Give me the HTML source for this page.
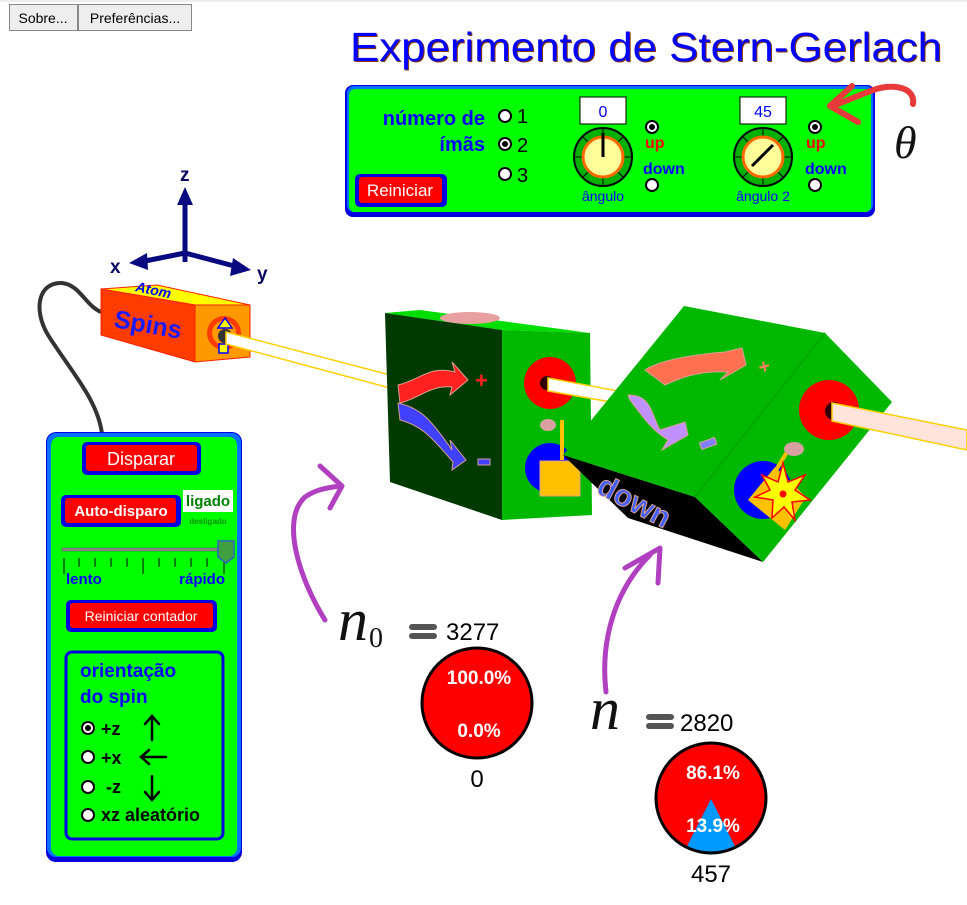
<!DOCTYPE html>
<html><head><meta charset="utf-8"><style>
body{margin:0;width:967px;height:905px;overflow:hidden;background:#fff;font-family:"Liberation Sans",sans-serif}
svg{position:absolute;left:0;top:0}
</style></head><body>
<svg width="967" height="905" viewBox="0 0 967 905" font-family="Liberation Sans, sans-serif">
<line x1="0" y1="1" x2="967" y2="1" stroke="#ddd"/>
<rect x="9.5" y="4.5" width="68" height="26" fill="#eee" stroke="#888"/>
<text x="43" y="23" font-size="14" text-anchor="middle">Sobre...</text>
<rect x="78.5" y="4.5" width="113" height="26" fill="#eee" stroke="#888"/>
<text x="135" y="23" font-size="14" text-anchor="middle">Preferências...</text>
<text x="351" y="62" font-size="41" fill="#8a3a00" textLength="592" lengthAdjust="spacingAndGlyphs">Experimento de Stern-Gerlach</text>
<text x="350" y="61" font-size="41" fill="#0000ff" textLength="592" lengthAdjust="spacingAndGlyphs">Experimento de Stern-Gerlach</text>
<rect x="345" y="85" width="530" height="132" rx="8" fill="#0000e0"/>
<rect x="347" y="86" width="526" height="126" rx="7" fill="#0070ff"/>
<rect x="349" y="89" width="522" height="123" rx="6" fill="#00ff00"/>
<text x="485" y="125" font-size="20" font-weight="bold" fill="#0000ff" text-anchor="end">número de</text>
<text x="485" y="151" font-size="20" font-weight="bold" fill="#0000ff" text-anchor="end">ímãs</text>
<g stroke="#000" stroke-width="2" fill="#fff"><circle cx="505" cy="116" r="6"/><circle cx="505" cy="144" r="6"/><circle cx="505" cy="174" r="6"/></g>
<circle cx="505" cy="144" r="3" fill="#000"/>
<g font-size="20" fill="#000"><text x="517" y="123">1</text><text x="517" y="152">2</text><text x="517" y="182">3</text></g>
<rect x="355" y="174" width="92" height="33" rx="5" fill="#0000e0"/>
<rect x="359" y="177" width="83" height="26" rx="3" fill="#ff0000"/>
<text x="400" y="196" font-size="17" fill="#fff" text-anchor="middle">Reiniciar</text>
<rect x="580" y="97" width="46" height="27" fill="#fff" stroke="#000"/>
<text x="603" y="117" font-size="16" fill="#0000ff" text-anchor="middle">0</text>
<circle cx="603" cy="157" r="29" fill="#00b000" stroke="#000" stroke-width="2"/>
<g stroke="#000" stroke-width="1"><line x1="603" y1="128" x2="603" y2="186"/><line x1="574" y1="157" x2="632" y2="157"/><line x1="583" y1="137" x2="623" y2="177"/><line x1="623" y1="137" x2="583" y2="177"/></g>
<circle cx="603" cy="157" r="20" fill="#ffff99" stroke="#ff6a00" stroke-width="3"/>
<line x1="603" y1="157" x2="603" y2="133" stroke="#000" stroke-width="3"/>
<text x="603" y="201" font-size="14" fill="#0000ff" text-anchor="middle">ângulo</text>
<circle cx="652" cy="127" r="6" fill="#fff" stroke="#000" stroke-width="2"/><circle cx="652" cy="127" r="3" fill="#000"/>
<text x="645" y="148" font-size="16" font-weight="bold" fill="#ff0000">up</text>
<text x="643" y="174" font-size="16" font-weight="bold" fill="#0000ff">down</text>
<circle cx="652" cy="185" r="6" fill="#fff" stroke="#000" stroke-width="2"/>
<rect x="740" y="97" width="46" height="27" fill="#fff" stroke="#000"/>
<text x="763" y="117" font-size="16" fill="#0000ff" text-anchor="middle">45</text>
<circle cx="763" cy="157" r="29" fill="#00b000" stroke="#000" stroke-width="2"/>
<g stroke="#000" stroke-width="1"><line x1="763" y1="128" x2="763" y2="186"/><line x1="734" y1="157" x2="792" y2="157"/><line x1="743" y1="137" x2="783" y2="177"/><line x1="783" y1="137" x2="743" y2="177"/></g>
<circle cx="763" cy="157" r="20" fill="#ffff99" stroke="#ff6a00" stroke-width="3"/>
<line x1="752" y1="166" x2="773" y2="145" stroke="#000" stroke-width="3"/>
<text x="763" y="201" font-size="14" fill="#0000ff" text-anchor="middle">ângulo 2</text>
<circle cx="815" cy="127" r="6" fill="#fff" stroke="#000" stroke-width="2"/><circle cx="815" cy="127" r="3" fill="#000"/>
<text x="806" y="148" font-size="16" font-weight="bold" fill="#ff0000">up</text>
<text x="805" y="174" font-size="16" font-weight="bold" fill="#0000ff">down</text>
<circle cx="815" cy="185" r="6" fill="#fff" stroke="#000" stroke-width="2"/>
<path d="M913,104 C915,90 900,84 880,88 C865,92 850,100 832,106" stroke="#e83a3a" stroke-width="6" fill="none" stroke-linecap="round"/>
<path d="M852,86 L830,106 L858,122" stroke="#e83a3a" stroke-width="6" fill="none" stroke-linecap="round" stroke-linejoin="round"/>
<text x="894" y="158" font-size="46" font-style="italic" font-family="Liberation Serif, serif" fill="#111">θ</text>
<g stroke="#0a0a80" stroke-width="5" fill="#0a0a80">
<line x1="185" y1="262" x2="185" y2="200"/><line x1="185" y1="253" x2="140" y2="262"/><line x1="185" y1="253" x2="238" y2="267"/>
</g>
<polygon points="185,187 177,205 193,205" fill="#0a0a80"/>
<polygon points="129,263 147,253 148,270" fill="#0a0a80"/>
<polygon points="251,270 233,258 230,276" fill="#0a0a80"/>
<g font-size="19" font-weight="bold" fill="#0a0a60"><text x="180" y="181">z</text><text x="110" y="273">x</text><text x="257" y="280">y</text></g>
<path d="M101,312 C85,305 80,285 62,283 C38,282 33,310 48,335 C70,370 98,400 102,434" stroke="#333" stroke-width="4" fill="none"/>
<polygon points="101,289 157,285 250,305 195,305" fill="#ffff00" stroke="#ff2000"/>
<text x="0" y="0" font-size="14" font-weight="bold" font-style="italic" fill="#0000ff" transform="translate(135,291) rotate(12)">Atom</text>
<polygon points="101,289 195,305 195,362 101,335" fill="#ff3c00" stroke="#ff2000"/>
<text x="0" y="0" font-size="25" font-weight="bold" fill="#1a1aff" transform="translate(113,327) rotate(10)">Spins</text>
<polygon points="195,305 250,305 250,357 195,362" fill="#ff9900" stroke="#ff2000"/>
<circle cx="224" cy="333" r="17" fill="#ff3c00"/><circle cx="224" cy="333" r="12" fill="#ff9900"/><circle cx="225" cy="336" r="7" fill="#333"/>
<polygon points="225,318 218,328 232,328" fill="#ffff00" stroke="#0000ff" stroke-width="1.5"/>
<rect x="219" y="344" width="9" height="9" fill="#ffff00" stroke="#0000ff" stroke-width="1.5"/>
<polygon points="226,332 390,375 390,388 226,344" fill="#fff" stroke="#ffd000" stroke-width="1.5"/>
<polygon points="385,313 420,310 590,333 502,330" fill="#00dd00"/>
<ellipse cx="470" cy="318" rx="30" ry="6" fill="#e8a0a0"/>
<polygon points="385,313 502,330 502,520 390,482" fill="#003a00"/>
<polygon points="502,330 590,333 592,515 502,520" fill="#00b800"/>
<path d="M398,385 C420,380 430,365 455,372 L452,362 L468,380 L450,395 L452,387 C430,385 420,398 400,403 Z" fill="#ff2020" stroke="#d8a090"/>
<path d="M398,403 C420,408 430,418 452,450 L450,440 L466,460 L452,470 L453,462 C430,435 420,425 400,420 Z" fill="#4040ff" stroke="#d8a090"/>
<text x="475" y="388" font-size="22" font-weight="bold" fill="#ff2020">+</text>
<rect x="478" y="459" width="12" height="6" fill="#4040ff" stroke="#d8a090"/>
<circle cx="550" cy="383" r="26" fill="#ff0000"/><circle cx="547" cy="383" r="7" fill="#300"/>
<circle cx="550" cy="468" r="25" fill="#0000ff"/>
<rect x="560" y="420" width="4" height="40" fill="#ffc000"/>
<ellipse cx="548" cy="425" rx="8" ry="6" fill="#d8a0a0"/>
<rect x="540" y="461" width="40" height="35" fill="#ffc000" stroke="#e8a080"/>
<polygon points="548,378 640,395 640,407 548,391" fill="#fff" stroke="#ffd000" stroke-width="1.5"/>
<polygon points="563,455 695,497 763,562 628,518" fill="#000"/>
<g font-size="30" font-weight="bold" fill="#4060ff" stroke="#d8a090"><text transform="translate(595,492) rotate(28)">down</text></g>
<polygon points="684,306 825,333 695,497 563,455" fill="#00b800"/>
<polygon points="825,333 892,402 763,562 695,497" fill="#00b800"/>
<line x1="825" y1="333" x2="695" y2="497" stroke="#00a800" stroke-width="2"/>
<path d="M645,370 C660,360 690,355 725,352 L742,348 L746,365 L720,380 L728,372 C700,370 680,378 665,385 Z" fill="#ff7050" stroke="#d8a090"/>
<path d="M628,395 C650,395 650,410 660,430 L685,422 L688,435 L662,450 L668,440 C652,430 645,420 630,400 Z" fill="#c090ff" stroke="#d8a090"/>
<text x="758" y="373" font-size="20" font-weight="bold" fill="#ff8060" transform="rotate(-15 765 365)">+</text>
<rect x="700" y="440" width="16" height="7" fill="#8080ff" stroke="#d8a090" transform="rotate(-20 708 443)"/>
<circle cx="829" cy="410" r="30" fill="#ff0000"/><circle cx="834" cy="411" r="9" fill="#300"/>
<circle cx="763" cy="490" r="29" fill="#0000ff"/>
<line x1="790" y1="447" x2="770" y2="480" stroke="#ffc000" stroke-width="4"/>
<ellipse cx="794" cy="449" rx="10" ry="7" fill="#d8a0a0"/>
<polygon points="775,467 806,497 785,530 748,500" fill="#ffc000"/>
<polygon points="783,463 788,482 805,475 795,490 810,500 792,502 795,520 784,507 772,518 773,500 755,497 770,490 762,475 778,482" fill="#ffff00" stroke="#ff0000" stroke-width="1.5"/>
<circle cx="783" cy="494" r="3.5" fill="#ff0000"/>
<polygon points="832,403 967,430 967,450 832,421" fill="#ffe4dc" stroke="#ffd000" stroke-width="1.5"/>
<path d="M325,620 C300,580 280,520 305,497 C315,490 325,488 340,486" stroke="#b040c0" stroke-width="5" fill="none" stroke-linecap="round"/>
<path d="M320,466 L342,486 L330,508" stroke="#b040c0" stroke-width="5" fill="none" stroke-linecap="round" stroke-linejoin="round"/>
<path d="M606,692 C600,640 615,590 650,555" stroke="#b040c0" stroke-width="5" fill="none" stroke-linecap="round"/>
<path d="M625,568 L660,548 L658,583" stroke="#b040c0" stroke-width="5" fill="none" stroke-linecap="round" stroke-linejoin="round"/>
<text x="338" y="640" font-size="60" font-style="italic" font-family="Liberation Serif, serif" fill="#111">n</text>
<text x="369" y="647" font-size="28" font-family="Liberation Serif, serif" fill="#111">0</text>
<rect x="409" y="624" width="28" height="6" rx="3" fill="#555"/><rect x="409" y="633" width="28" height="6" rx="3" fill="#555"/>
<text x="446" y="640" font-size="24" fill="#000">3277</text>
<circle cx="477" cy="703" r="55" fill="#ff0000" stroke="#000" stroke-width="3"/>
<text x="479" y="684" font-size="19" font-weight="bold" fill="#fff" text-anchor="middle">100.0%</text>
<text x="479" y="737" font-size="19" font-weight="bold" fill="#fff" text-anchor="middle">0.0%</text>
<text x="477" y="787" font-size="24" fill="#000" text-anchor="middle">0</text>
<text x="590" y="729" font-size="60" font-style="italic" font-family="Liberation Serif, serif" fill="#111">n</text>
<rect x="646" y="714" width="28" height="6" rx="3" fill="#555"/><rect x="646" y="723" width="28" height="6" rx="3" fill="#555"/>
<text x="680" y="731" font-size="24" fill="#000">2820</text>
<clipPath id="c2"><circle cx="711" cy="798" r="55"/></clipPath>
<circle cx="711" cy="798" r="55" fill="#ff0000"/>
<polygon points="711,799 680,860 742,860" fill="#0099ff" clip-path="url(#c2)"/>
<circle cx="711" cy="798" r="55" fill="none" stroke="#000" stroke-width="3"/>
<text x="713" y="779" font-size="19" font-weight="bold" fill="#fff" text-anchor="middle">86.1%</text>
<text x="713" y="832" font-size="19" font-weight="bold" fill="#fff" text-anchor="middle">13.9%</text>
<text x="711" y="882" font-size="24" fill="#000" text-anchor="middle">457</text>
<rect x="46" y="432" width="196" height="430" rx="10" fill="#0000e0"/>
<rect x="47" y="433" width="194" height="424" rx="9" fill="#0070ff"/>
<rect x="51" y="437" width="186" height="419" rx="8" fill="#00ff00"/>
<rect x="82" y="442" width="119" height="33" rx="5" fill="#0000e0"/>
<rect x="86" y="445" width="111" height="26" rx="3" fill="#ff0000"/>
<text x="141" y="465" font-size="18" fill="#fff" text-anchor="middle">Disparar</text>
<rect x="61" y="495" width="120" height="32" rx="5" fill="#0000e0"/>
<rect x="65" y="498" width="111" height="25" rx="3" fill="#ff0000"/>
<text x="121" y="516" font-size="15" font-weight="bold" fill="#fff" text-anchor="middle">Auto-disparo</text>
<rect x="183" y="490" width="50" height="22" fill="#fff"/>
<text x="208" y="506" font-size="15" font-weight="bold" fill="#008000" text-anchor="middle">ligado</text>
<text x="208" y="524" font-size="8" font-weight="bold" fill="#009000" text-anchor="middle">desligado</text>
<rect x="62" y="548" width="162" height="3" fill="#888" stroke="#555" stroke-width="0.5"/>
<g stroke="#000" stroke-width="1"><line x1="64" y1="558" x2="64" y2="574"/><line x1="79" y1="558" x2="79" y2="567"/><line x1="95" y1="558" x2="95" y2="567"/><line x1="111" y1="558" x2="111" y2="567"/><line x1="127" y1="558" x2="127" y2="567"/><line x1="143" y1="558" x2="143" y2="574"/><line x1="159" y1="558" x2="159" y2="567"/><line x1="175" y1="558" x2="175" y2="567"/><line x1="191" y1="558" x2="191" y2="567"/><line x1="207" y1="558" x2="207" y2="567"/><line x1="224" y1="558" x2="224" y2="574"/></g>
<polygon points="218,541 234,541 234,557 226,563 218,557" fill="#40a040" stroke="#3060c0" stroke-width="1.5"/>
<text x="66" y="584" font-size="15" font-weight="bold" fill="#0000ff">lento</text>
<text x="225" y="584" font-size="15" font-weight="bold" fill="#0000ff" text-anchor="end">rápido</text>
<rect x="66" y="600" width="151" height="32" rx="5" fill="#0000e0"/>
<rect x="70" y="603" width="143" height="25" rx="3" fill="#ff0000"/>
<text x="141" y="621" font-size="14" fill="#fff" text-anchor="middle">Reiniciar contador</text>
<rect x="66" y="652" width="157" height="187" rx="6" fill="none" stroke="#0000e0" stroke-width="3"/>
<text x="80" y="677" font-size="19" font-weight="bold" fill="#0000ff">orientação</text>
<text x="80" y="703" font-size="19" font-weight="bold" fill="#0000ff">do spin</text>
<g stroke="#000" stroke-width="2" fill="#fff"><circle cx="88" cy="728" r="6"/><circle cx="88" cy="757" r="6"/><circle cx="88" cy="787" r="6"/><circle cx="88" cy="815" r="6"/></g>
<circle cx="88" cy="728" r="3" fill="#000"/>
<g font-size="18" font-weight="bold" fill="#000"><text x="101" y="735">+z</text><text x="101" y="764">+x</text><text x="106" y="793">-z</text><text x="101" y="821">xz aleatório</text></g>
<g stroke="#000" stroke-width="2.5" fill="none" stroke-linecap="round"><path d="M152,740 V716 M145,724 L152,716 L159,724"/><path d="M166,757 H141 M149,750 L141,757 L149,764"/><path d="M152,776 V800 M145,792 L152,800 L159,792"/></g>
</svg>
</body></html>
